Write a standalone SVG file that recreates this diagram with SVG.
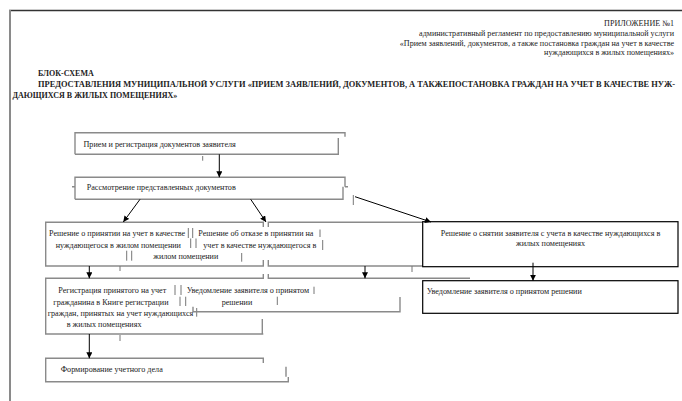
<svg xmlns="http://www.w3.org/2000/svg" width="682" height="401" viewBox="0 0 682 401">
<defs>
<marker id="ah" viewBox="0 0 6 6" refX="6" refY="3" markerWidth="6" markerHeight="6" markerUnits="userSpaceOnUse" orient="auto">
<path d="M0,0 L6,3 L0,6 z" fill="#000"/>
</marker>
<style>
text{font-family:"Liberation Serif","Times New Roman",serif;fill:#222;font-size:8.15px}
.hd{font-size:8.1px;text-anchor:end}
.tt{font-weight:bold;font-size:8px}
.gb{fill:none;stroke:#8a8a8a;stroke-width:1.4}
.bar{fill:none;stroke:#777;stroke-width:1}
.bb{fill:#fff;stroke:#000;stroke-width:1.2}
.cn{fill:none;stroke:#000;stroke-width:1;marker-end:url(#ah)}
.tk{fill:none;stroke:#777;stroke-width:1}
</style>
</defs>
<rect width="682" height="401" fill="#fff"/>
<g id="frame">
<line x1="9" y1="10.5" x2="682" y2="10.5" stroke="#333" stroke-width="1.5"/>
<line x1="10" y1="10" x2="10" y2="401" stroke="#8a8a8a" stroke-width="2"/>
</g>
<g id="header">
<text class="hd" x="674" y="26">ПРИЛОЖЕНИЕ №1</text>
<text class="hd" x="674" y="36">административный регламент по предоставлению муниципальной услуги</text>
<text class="hd" x="674" y="45.5">«Прием заявлений, документов, а также постановка граждан на учет в качестве</text>
<text class="hd" x="674" y="55">нуждающихся в жилых помещениях»</text>
</g>
<g id="title">
<text class="tt" x="38" y="76">БЛОК-СХЕМА</text>
<text class="tt" x="38" y="87" textLength="637" lengthAdjust="spacingAndGlyphs">ПРЕДОСТАВЛЕНИЯ МУНИЦИПАЛЬНОЙ УСЛУГИ «ПРИЕМ ЗАЯВЛЕНИЙ, ДОКУМЕНТОВ, А ТАКЖЕПОСТАНОВКА ГРАЖДАН НА УЧЕТ В КАЧЕСТВЕ НУЖ-</text>
<text class="tt" x="12.5" y="98">ДАЮЩИХСЯ В ЖИЛЫХ ПОМЕЩЕНИЯХ»</text>
</g>
<g id="n1">
<path class="gb" d="M75,154.3 V132.7 H345 V136.7 M338.3,138 V154.3 H75"/>
<text x="83.5" y="147">Прием и регистрация документов заявителя</text>
</g>
<g id="n2">
<path class="gb" d="M72,186.7 H75 M75,199.3 V177.3 H345 V186.7 M343,186.7 V199.3 H75 M345,186.7 H348"/>
<text x="86.7" y="189.5">Рассмотрение представленных документов</text>
</g>
<g id="n3">
<path class="gb" d="M263.3,227 V222.3 H45.7 V266 H263.3 V260"/>
<text x="49" y="236">Решение о принятии на учет в качестве</text>
<text x="55.7" y="247.5">нуждающегося в жилом помещении</text>
<path class="bar" d="M188.3,228 V238 M192.7,228 V238 M190.7,238.5 V248 M196,238.5 V248 M126.7,250.7 V260.7 M131.7,250.7 V260.7"/>
</g>
<g id="n4">
<path class="gb" d="M268.3,227 V222.3 H423 M268.3,260 V266 H423"/>
<text x="198.3" y="236">Решение об отказе в принятии на</text>
<text x="203.3" y="247.5">учет в качестве нуждающегося в</text>
<text x="153.3" y="259">жилом помещении</text>
<path class="bar" d="M320,229.5 V237 M322.7,240 V250 M241.7,253 V261.7"/>
</g>
<g id="n5">
<path class="gb" d="M263.3,274 V278.3 H45.7 V334 H263.3 M262.3,319 V334"/>
<text x="58.3" y="293">Регистрация принятого на учет</text>
<text x="53.3" y="304.5">гражданина в Книге регистрации</text>
<text x="47.7" y="316">граждан, принятых на учет нуждающихся</text>
<text x="66.7" y="327">в жилых помещениях</text>
<path class="bar" d="M175,285 V295 M181,285 V295 M180,296.7 V306 M185.7,296.7 V306 M196.7,308 V316.7"/>
</g>
<g id="n6">
<path class="gb" d="M268.3,274 V278.3 H470 M193,306.7 V311.7 H400 V297"/>
<text x="186.7" y="293">Уведомление заявителя о принятом</text>
<text x="221.7" y="304.5">решении</text>
<path class="bar" d="M314,286.7 V294 M277.3,296.7 V305"/>
</g>
<g id="n7">
<path class="gb" d="M263.3,363 V358.3 H45.7 V381.7 H288.3 V377 M286,366.7 V376.7"/>
<text x="60.7" y="372">Формирование учетного дела</text>
</g>
<g id="n8">
<rect class="bb" x="422.7" y="221.7" width="255.3" height="45"/>
<text x="550.5" y="236" text-anchor="middle">Решение о снятии  заявителя с учета в качестве нуждающихся в</text>
<text x="550.5" y="245.5" text-anchor="middle">жилых помещениях</text>
</g>
<g id="n9">
<rect class="bb" x="422.7" y="280.7" width="255.3" height="32.6"/>
<text x="426.7" y="293.5">Уведомление заявителя о принятом решении</text>
</g>
<g id="ticks">
<path class="tk" d="M202.7,156 V160.7 M353.3,195 V205 M120,266 V271 M412,266 V272 M120,335 V341"/>
</g>
<g id="connectors">
<line class="cn" x1="219.3" y1="154.3" x2="219.3" y2="177.3"/>
<line class="cn" x1="140" y1="199.3" x2="123.3" y2="222"/>
<line class="cn" x1="250.7" y1="199.3" x2="266" y2="222"/>
<line class="cn" x1="355" y1="196.7" x2="431" y2="222"/>
<line class="cn" x1="89.3" y1="266" x2="89.3" y2="278.3"/>
<line class="cn" x1="365" y1="266" x2="365" y2="278.3"/>
<line class="cn" x1="533" y1="262.7" x2="533" y2="280.7"/>
<line class="cn" x1="89.3" y1="334" x2="89.3" y2="358.3"/>
</g>
</svg>
